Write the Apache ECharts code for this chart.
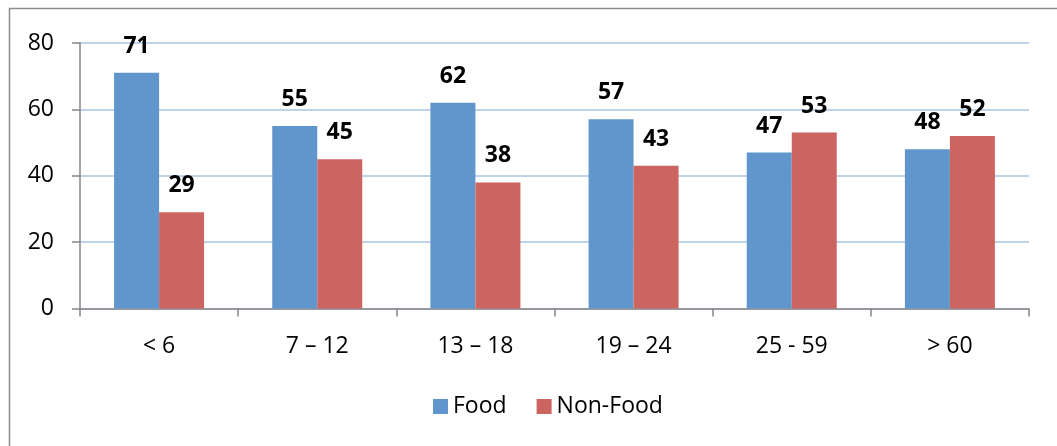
<!DOCTYPE html>
<html>
<head>
<meta charset="utf-8">
<script src="https://cdn.jsdelivr.net/npm/echarts@6/dist/echarts.min.js"></script>
<style>
  html, body { margin: 0; padding: 0; background: #fff; }
  #chart { width: 1057px; height: 446px; }
</style>
</head>
<body>
<div id="chart"></div>
<script>
// Age groups and share of spending (%) for each group
const categories = ['< 6', '7 – 12', '13 – 18', '19 – 24', '25 - 59', '> 60'];
const foodValues = [71, 55, 62, 57, 47, 48];
const nonFoodValues = [29, 45, 38, 43, 53, 52];
const seriesNames = ['Food', 'Non-Food'];
const yTicks = { min: 0, max: 80, interval: 20 };

const FONT = '"Open Sans", Lato, sans-serif';
const axisGray = '#868686';

const chart = echarts.init(document.getElementById('chart'), null, { renderer: 'canvas' });

const valueLabel = {
  show: true,
  position: 'top',
  distance: 15,
  color: '#000',
  fontFamily: FONT,
  fontWeight: 'bold',
  fontSize: 23
};

chart.setOption({
  animation: false,
  backgroundColor: '#fff',
  graphic: [{
    type: 'rect',
    shape: { x: 9.5, y: 8.5, width: 1080, height: 460 },
    style: { fill: 'none', stroke: '#8c8c8c', lineWidth: 1.5 },
    silent: true
  }],
  grid: { left: 80, right: 28, top: 43, bottom: 137.5 },
  legend: {
    data: seriesNames,
    left: 428,
    top: 390,
    icon: 'rect',
    itemWidth: 15,
    itemHeight: 15,
    itemGap: 30,
    itemStyle: { borderWidth: 0 },
    textStyle: { fontFamily: FONT, fontSize: 23, color: '#000' }
  },
  xAxis: {
    type: 'category',
    data: categories,
    axisLine: { lineStyle: { color: axisGray, width: 1.5 } },
    axisTick: { show: true, length: 8, alignWithLabel: false, lineStyle: { color: axisGray, width: 1.5 } },
    axisLabel: { fontFamily: FONT, fontSize: 23, color: '#000', margin: 26 }
  },
  yAxis: {
    type: 'value',
    min: yTicks.min,
    max: yTicks.max,
    interval: yTicks.interval,
    axisLine: { show: true, lineStyle: { color: axisGray, width: 1.5 } },
    axisTick: { show: true, length: 8, lineStyle: { color: axisGray, width: 1.5 } },
    axisLabel: { fontFamily: FONT, fontSize: 23, color: '#000', margin: 26 },
    splitLine: { lineStyle: { color: '#a9c5e3', width: 1.5 } }
  },
  series: [
    {
      name: seriesNames[0],
      type: 'bar',
      data: foodValues,
      barWidth: 45,
      barGap: '0%',
      itemStyle: { color: '#6096cb' },
      label: valueLabel
    },
    {
      name: seriesNames[1],
      type: 'bar',
      data: nonFoodValues,
      barWidth: 45,
      barGap: '0%',
      itemStyle: { color: '#cc6560' },
      label: valueLabel
    }
  ]
});
</script>
</body>
</html>
